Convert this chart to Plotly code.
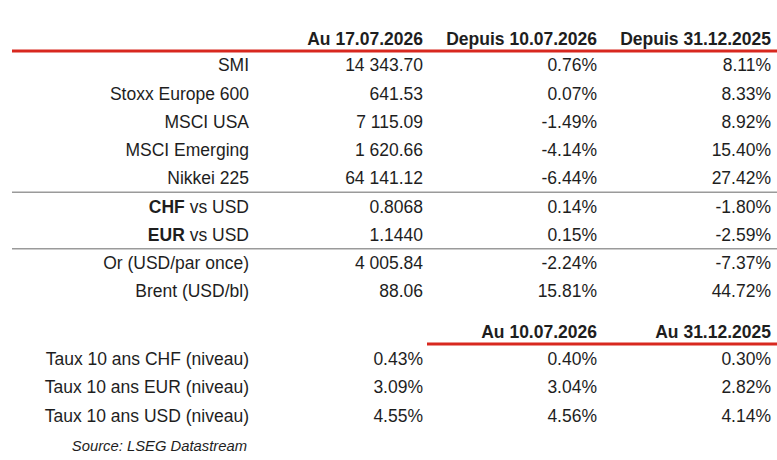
import plotly.graph_objects as go

# table content
labels = ["SMI", "Stoxx Europe 600", "MSCI USA", "MSCI Emerging", "Nikkei 225",
          "<b>CHF</b> vs USD", "<b>EUR</b> vs USD",
          "Or (USD/par once)", "Brent (USD/bl)"]
level = ["14 343.70", "641.53", "7 115.09", "1 620.66", "64 141.12",
         "0.8068", "1.1440", "4 005.84", "88.06"]
since_week = ["0.76%", "0.07%", "-1.49%", "-4.14%", "-6.44%",
              "0.14%", "0.15%", "-2.24%", "15.81%"]
since_year = ["8.11%", "8.33%", "8.92%", "15.40%", "27.42%",
              "-1.80%", "-2.59%", "-7.37%", "44.72%"]
headers = ["Au 17.07.2026", "Depuis 10.07.2026", "Depuis 31.12.2025"]

rate_labels = ["Taux 10 ans CHF (niveau)", "Taux 10 ans EUR (niveau)", "Taux 10 ans USD (niveau)"]
rate_now = ["0.43%", "3.09%", "4.55%"]
rate_week = ["0.40%", "3.04%", "4.56%"]
rate_year = ["0.30%", "2.82%", "4.14%"]
rate_headers = ["Au 10.07.2026", "Au 31.12.2025"]
source = "Source: LSEG Datastream"

# layout: row positions (row units) and column right edges (px)
rows = list(range(1, len(labels) + 1))
rate_rows = [11.4, 12.4, 13.4]
head_row, rate_head_row, source_row = 0.05, 10.45, 14.45
col_x = [249, 423, 597, 771]
text_dy = 0.07

TXT = "#1e1e1e"
RED = "#d8281f"
GREY = "#9a9a9a"
FONT = "Liberation Sans, Arial, sans-serif"

fig = go.Figure()


def add_col(x, ys, texts, size=17.5, bold=False, italic=False):
    if bold:
        texts = ["<b>%s</b>" % t for t in texts]
    if italic:
        texts = ["<i>%s</i>" % t for t in texts]
    fig.add_trace(go.Scatter(
        x=[x] * len(ys), y=[y + text_dy for y in ys], text=texts, mode="text",
        textposition="middle left", hoverinfo="skip",
        textfont=dict(family=FONT, size=size, color=TXT)))


add_col(col_x[0], rows, labels)
add_col(col_x[1], rows, level)
add_col(col_x[2], rows, since_week)
add_col(col_x[3], rows, since_year)
add_col(col_x[1], [head_row], [headers[0]], bold=True)
add_col(col_x[2], [head_row], [headers[1]], bold=True)
add_col(col_x[3], [head_row], [headers[2]], bold=True)

add_col(col_x[0], rate_rows, rate_labels)
add_col(col_x[1], rate_rows, rate_now)
add_col(col_x[2], rate_rows, rate_week)
add_col(col_x[3], rate_rows, rate_year)
add_col(col_x[2], [rate_head_row], [rate_headers[0]], bold=True)
add_col(col_x[3], [rate_head_row], [rate_headers[1]], bold=True)

add_col(col_x[0] - 2, [source_row], [source], size=14.8, italic=True)

# rules
fig.add_shape(type="line", x0=12, x1=777, y0=0.5, y1=0.5, line=dict(color=RED, width=3))
fig.add_shape(type="line", x0=12, x1=777, y0=5.5, y1=5.5, line=dict(color=GREY, width=1.5))
fig.add_shape(type="line", x0=12, x1=777, y0=7.5, y1=7.5, line=dict(color=GREY, width=1.5))
fig.add_shape(type="line", x0=427, x1=777, y0=10.88, y1=10.88, line=dict(color=RED, width=3))

fig.update_layout(
    width=777, height=460,
    margin=dict(l=0, r=0, t=0, b=0),
    paper_bgcolor="white", plot_bgcolor="white",
    showlegend=False,
    xaxis=dict(range=[0, 777], visible=False, fixedrange=True),
    yaxis=dict(range=[14.982, -1.301], visible=False, fixedrange=True),
)

fig.write_html("out.html", config={"displayModeBar": False},
               post_script="document.body.style.margin='0';")
